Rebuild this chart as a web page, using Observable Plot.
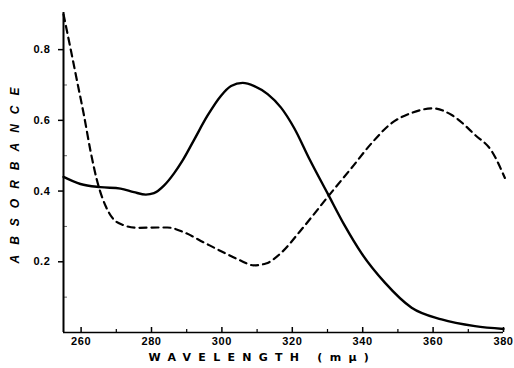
<!DOCTYPE html>
<html>
<head>
<meta charset="utf-8">
<script src="https://cdn.jsdelivr.net/npm/d3@7"></script>
<script src="https://cdn.jsdelivr.net/npm/@observablehq/plot@0.6"></script>
<style>
  html, body { margin: 0; padding: 0; background: #fff; }
</style>
</head>
<body>
<div id="chart"></div>
<script>
// Solid curve (wavelength in mμ, absorbance)
const wavelengthSolid = [255, 259.8, 265.5, 271.2, 275, 278.4, 280.7, 283.6, 286.4, 288.8, 292.1, 295.9, 299.7, 302.6, 305.9, 309.2, 313, 316.8, 320.6, 324.9, 330.1, 334.9, 339.6, 346.3, 353.9, 362.4, 371.9, 380];
const absorbanceSolid = [0.44, 0.42, 0.411, 0.407, 0.397, 0.39, 0.394, 0.416, 0.45, 0.486, 0.545, 0.613, 0.669, 0.697, 0.706, 0.697, 0.674, 0.636, 0.577, 0.49, 0.392, 0.302, 0.225, 0.141, 0.070, 0.037, 0.018, 0.01];

// Dashed curve
const wavelengthDashed = [255, 257, 258.9, 260.8, 262.7, 264.6, 267, 268.9, 271.7, 276, 281.7, 284.5, 289.3, 295, 301.6, 305, 309, 312.5, 316.8, 322.5, 330.6, 336.8, 342.5, 348.2, 353.9, 360, 365.3, 371.9, 376.7, 380.4];
const absorbanceDashed = [0.9, 0.803, 0.709, 0.615, 0.512, 0.427, 0.357, 0.324, 0.305, 0.296, 0.297, 0.297, 0.283, 0.254, 0.221, 0.205, 0.19, 0.195, 0.225, 0.29, 0.39, 0.465, 0.535, 0.592, 0.621, 0.634, 0.615, 0.559, 0.512, 0.437];

// Ticks and labels
const xTicks = [260, 280, 300, 320, 340, 360, 380];
const xMinorTicks = [270, 290, 310, 330, 350, 370];
const yTicks = [0.2, 0.4, 0.6, 0.8];
const yMinorTicks = [0.1, 0.3, 0.5, 0.7];
const xTitle = "WAVELENGTH (mμ)";
const yTitle = "ABSORBANCE";

const solid = wavelengthSolid.map((w, i) => ({w, a: absorbanceSolid[i]}));
const dashed = wavelengthDashed.map((w, i) => ({w, a: absorbanceDashed[i]}));

const W = 514, H = 368, mL = 63, mR = 11, mT = 12, mB = 36;
const frameW = W - mL - mR, frameH = H - mT - mB;

const chart = Plot.plot({
  width: W,
  height: H,
  marginLeft: mL,
  marginRight: mR,
  marginTop: mT,
  marginBottom: mB,
  style: {background: "#fff", color: "#000", fontFamily: "'Liberation Sans', Arial, sans-serif", fontSize: "11px", fontWeight: "bold"},
  x: {domain: [255, 380]},
  y: {domain: [0, 0.905]},
  marks: [
    Plot.axisX({ticks: xTicks, tickSize: 0, tickPadding: 5, label: null, fontSize: 11, fontWeight: "bold"}),
    Plot.axisY({ticks: yTicks, tickSize: 5, tickPadding: 8, strokeWidth: 1.5, label: null, tickFormat: d3.format(".1f"), fontSize: 11, fontWeight: "bold"}),
    Plot.tickX(xTicks, {x: d => d, insetTop: frameH - 5, strokeWidth: 1.5}),
    Plot.tickX(xMinorTicks, {x: d => d, insetTop: frameH - 3, strokeWidth: 1.2}),
    Plot.tickY(yMinorTicks, {y: d => d, insetRight: frameW - 4, strokeWidth: 1, strokeOpacity: 0.6}),
    Plot.ruleX([255], {strokeWidth: 2}),
    Plot.ruleY([0], {strokeWidth: 1.6}),
    Plot.line(solid, {x: "w", y: "a", curve: "monotone-x", stroke: "#000", strokeWidth: 2.4}),
    Plot.line(dashed, {x: "w", y: "a", curve: "monotone-x", stroke: "#000", strokeWidth: 2.2, strokeDasharray: "7,5"}),
    Plot.text([xTitle], {text: d => d, frameAnchor: "bottom-left", dx: 85, dy: 25, textAnchor: "start", lineAnchor: "middle", fontFamily: "'DejaVu Sans', sans-serif", fontSize: 11, fontWeight: "bold", fill: "#000"}),
    Plot.text([yTitle], {text: d => d, frameAnchor: "left", dx: -48, dy: 91, rotate: -90, textAnchor: "start", lineAnchor: "middle", fontFamily: "'Liberation Sans', Arial, sans-serif", fontStyle: "italic", fontSize: 12, fontWeight: "bold", fill: "#000"})
  ]
});
// letter-spacing for the titles and tick labels
d3.select(chart).selectAll("text").each(function() {
  const t = this.textContent;
  if (t === xTitle) this.style.letterSpacing = "7.3px";
  else if (t === yTitle) this.style.letterSpacing = "10px";
  else this.style.letterSpacing = "0.6px";
});
document.getElementById("chart").appendChild(chart);
</script>
</body>
</html>
